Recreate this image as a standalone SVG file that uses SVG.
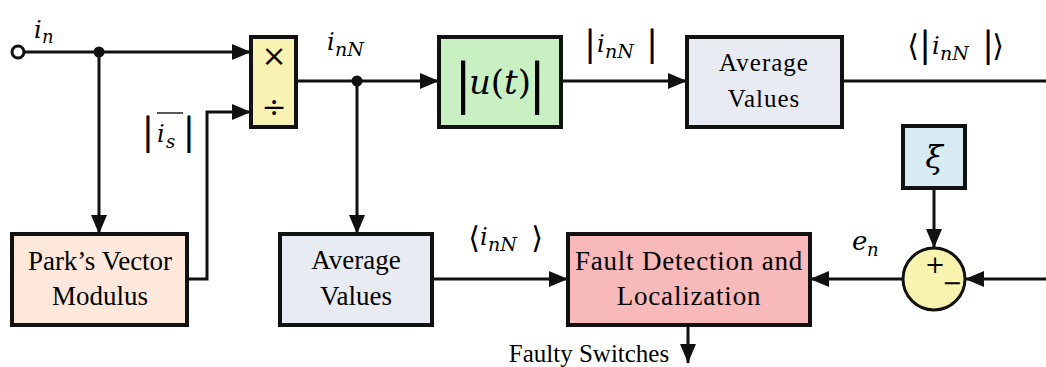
<svg xmlns="http://www.w3.org/2000/svg" width="1046" height="367" viewBox="0 0 1046 367">
<defs>
<marker id="ah" markerUnits="userSpaceOnUse" markerWidth="20" markerHeight="18" refX="19" refY="9" orient="auto">
<path d="M0,1 L19,9 L0,17 z" fill="#111"/>
</marker>
</defs>
<g id="connectors" fill="none" stroke="#111" stroke-width="3">
<path d="M24,52 H251" marker-end="url(#ah)"/>
<path d="M99,52 V234" marker-end="url(#ah)"/>
<path d="M187,279 H207 V112 H251" marker-end="url(#ah)"/>
<path d="M296,81 H439" marker-end="url(#ah)"/>
<path d="M357,81 V234" marker-end="url(#ah)"/>
<path d="M561,81 H687" marker-end="url(#ah)"/>
<path d="M842,81 H1046"/>
<path d="M934,188 V248" marker-end="url(#ah)"/>
<path d="M1046,279 H965" marker-end="url(#ah)"/>
<path d="M903,279 H810" marker-end="url(#ah)"/>
<path d="M432,279 H568" marker-end="url(#ah)"/>
<path d="M688,325 V363" marker-end="url(#ah)"/>
<circle cx="99" cy="52" r="5.5" fill="#111" stroke="none"/>
<circle cx="357" cy="81" r="5.5" fill="#111" stroke="none"/>
</g>
<g id="input">
<circle cx="18" cy="52" r="6" fill="#fff" stroke="#111" stroke-width="3"/>
<text x="34" y="38" font-family="DejaVu Serif" font-size="24" font-style="italic">i</text>
<text x="42" y="43" font-family="DejaVu Serif" font-size="18" font-style="italic">n</text>
</g>
<g id="muldiv">
<rect x="251" y="37" width="45" height="90" fill="#f9f3b3" stroke="#111" stroke-width="4"/>
<text x="274" y="66" font-family="DejaVu Serif" font-size="30" text-anchor="middle">×</text>
<text x="274" y="117" font-family="DejaVu Serif" font-size="30" text-anchor="middle">÷</text>
</g>
<g id="is-label">
<text x="148" y="144" font-family="DejaVu Serif" font-size="38" text-anchor="middle">|</text>
<line x1="157" y1="113" x2="183" y2="113" stroke="#222" stroke-width="1.5"/>
<text x="157" y="142" font-family="DejaVu Serif" font-size="24" font-style="italic">i</text>
<text x="166" y="148" font-family="DejaVu Serif" font-size="18" font-style="italic">s</text>
<text x="189" y="144" font-family="DejaVu Serif" font-size="38" text-anchor="middle">|</text>
</g>
<g id="parks">
<rect x="12" y="234" width="175" height="91" fill="#fde8db" stroke="#111" stroke-width="4"/>
<text x="100" y="270" font-family="Times New Roman" font-size="27" text-anchor="middle">Park’s Vector</text>
<text x="100" y="305" font-family="Times New Roman" font-size="27" text-anchor="middle">Modulus</text>
</g>
<g id="inN-label">
<text x="327" y="50" font-family="DejaVu Serif" font-size="24" font-style="italic">i</text>
<text x="335" y="56" font-family="DejaVu Serif" font-size="19" font-style="italic">nN</text>
</g>
<g id="abs">
<rect x="439" y="37" width="122" height="90" fill="#c8f0c2" stroke="#111" stroke-width="4"/>
<text x="463" y="102" font-family="DejaVu Serif" font-size="54" text-anchor="middle">|</text>
<text x="500" y="94" font-family="DejaVu Serif" font-size="34" text-anchor="middle"><tspan font-style="italic">u</tspan>(<tspan font-style="italic">t</tspan>)</text>
<text x="537" y="102" font-family="DejaVu Serif" font-size="54" text-anchor="middle">|</text>
</g>
<g id="abs-label">
<text x="590" y="56" font-family="DejaVu Serif" font-size="36" text-anchor="middle">|</text>
<text x="597" y="52" font-family="DejaVu Serif" font-size="24" font-style="italic">i</text>
<text x="605" y="58" font-family="DejaVu Serif" font-size="19" font-style="italic">nN</text>
<text x="652" y="56" font-family="DejaVu Serif" font-size="36" text-anchor="middle">|</text>
</g>
<g id="avg1">
<rect x="687" y="37" width="155" height="90" fill="#e8ecf2" stroke="#111" stroke-width="4"/>
<text x="764" y="71" font-family="Liberation Serif" font-size="25" text-anchor="middle" letter-spacing="1">Average</text>
<text x="764" y="107" font-family="Liberation Serif" font-size="25" text-anchor="middle" letter-spacing="1">Values</text>
</g>
<g id="avg1-label">
<text x="913" y="56" font-family="DejaVu Serif" font-size="30" text-anchor="middle">⟨</text>
<text x="925" y="57" font-family="DejaVu Serif" font-size="36" text-anchor="middle">|</text>
<text x="932" y="54" font-family="DejaVu Serif" font-size="24" font-style="italic">i</text>
<text x="940" y="60" font-family="DejaVu Serif" font-size="19" font-style="italic">nN</text>
<text x="988" y="57" font-family="DejaVu Serif" font-size="36" text-anchor="middle">|</text>
<text x="998" y="56" font-family="DejaVu Serif" font-size="30" text-anchor="middle">⟩</text>
</g>
<g id="xi">
<rect x="903" y="126" width="62" height="62" fill="#d8ebf3" stroke="#111" stroke-width="4"/>
<text x="934" y="168" font-family="DejaVu Serif" font-size="32" font-style="italic" text-anchor="middle">ξ</text>
</g>
<g id="sum">
<circle cx="934" cy="279" r="31" fill="#f9f3b0" stroke="#111" stroke-width="3"/>
<text x="935" y="273" font-family="DejaVu Serif" font-size="24" text-anchor="middle">+</text>
<text x="952" y="291" font-family="DejaVu Serif" font-size="24" text-anchor="middle">−</text>
</g>
<g id="en-label">
<text x="852" y="250" font-family="DejaVu Serif" font-size="26" font-style="italic">e</text>
<text x="867" y="256" font-family="DejaVu Serif" font-size="18" font-style="italic">n</text>
</g>
<g id="avg2">
<rect x="280" y="234" width="152" height="91" fill="#e8ecf2" stroke="#111" stroke-width="4"/>
<text x="356" y="269" font-family="Tinos" font-size="27" text-anchor="middle">Average</text>
<text x="356" y="305" font-family="Tinos" font-size="27" text-anchor="middle">Values</text>
</g>
<g id="avg2-label">
<text x="474" y="248" font-family="DejaVu Serif" font-size="30" text-anchor="middle">⟨</text>
<text x="480" y="245" font-family="DejaVu Serif" font-size="24" font-style="italic">i</text>
<text x="488" y="251" font-family="DejaVu Serif" font-size="19" font-style="italic">nN</text>
<text x="537" y="248" font-family="DejaVu Serif" font-size="30" text-anchor="middle">⟩</text>
</g>
<g id="fault">
<rect x="568" y="234" width="242" height="91" fill="#f8b9ba" stroke="#111" stroke-width="4"/>
<text x="689" y="270" font-family="serif" font-size="27" text-anchor="middle" letter-spacing="0.8">Fault Detection and</text>
<text x="689" y="305" font-family="serif" font-size="27" text-anchor="middle" letter-spacing="0.8">Localization</text>
</g>
<g id="faulty-label">
<text x="589" y="362" font-family="Liberation Serif" font-size="25" text-anchor="middle">Faulty Switches</text>
</g>
</svg>
